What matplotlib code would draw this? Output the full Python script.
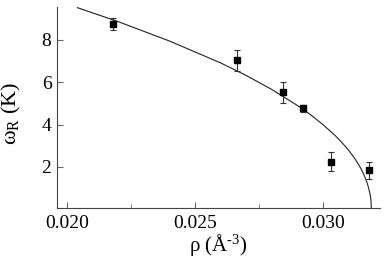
import matplotlib
matplotlib.use('Agg')
import matplotlib.pyplot as plt
from matplotlib.ticker import MultipleLocator

plt.rcParams['font.family'] = ['Liberation Serif', 'DejaVu Serif']
plt.rcParams['mathtext.fontset'] = 'custom'
plt.rcParams['mathtext.rm'] = 'Liberation Serif'
plt.rcParams['mathtext.it'] = 'Liberation Serif:italic'

# measured points
rho = [0.02179, 0.02663, 0.02843, 0.02921, 0.03031, 0.03181]
omega = [8.72, 7.02, 5.52, 4.76, 2.25, 1.84]
omega_err = [0.28, 0.50, 0.50, 0.18, 0.45, 0.40]

# fit curve
fit_rho = [0.0204, 0.0220, 0.0240, 0.0260, 0.0270, 0.0280, 0.0290, 0.0295,
           0.0300, 0.0305, 0.0307, 0.0309, 0.0310, 0.0311, 0.0312, 0.0313,
           0.0314, 0.0315, 0.0316, 0.0317, 0.03175, 0.0318, 0.03185,
           0.03188, 0.0319]
fit_omega = [9.50, 8.84, 7.93, 6.90, 6.31, 5.65, 4.90, 4.48,
             4.00, 3.46, 3.21, 2.94, 2.80, 2.64, 2.48, 2.30,
             2.11, 1.90, 1.65, 1.36, 1.18, 0.97, 0.70,
             0.45, 0.0]

fig = plt.figure(figsize=(3.9, 2.6), dpi=100)
ax = fig.add_axes([0.146, 0.2, 0.828, 0.773])

ax.plot(fit_rho, fit_omega, color='#222222', lw=0.8)
ax.errorbar(rho, omega, yerr=omega_err, fmt='s', color='black', ms=5,
            ecolor='#333333', elinewidth=0.8, capsize=2.5, capthick=0.8)

ax.set_xlim(0.0196, 0.03223)
ax.set_ylim(0.07, 9.53)
ax.xaxis.set_minor_locator(MultipleLocator(0.0025))
ax.set_xticks([0.020, 0.025, 0.030])
ax.set_xticklabels(['0.020', '0.025', '0.030'])
ax.set_yticks([2, 4, 6, 8])

for side in ['top', 'right']:
    ax.spines[side].set_visible(False)
for side in ['left', 'bottom']:
    ax.spines[side].set_color('#444444')
    ax.spines[side].set_linewidth(0.8)

ax.tick_params(which='both', direction='in', colors='#666666', labelcolor='black',
               labelsize=14)
ax.tick_params(axis='x', which='major', length=4, pad=5)
ax.tick_params(axis='y', which='major', length=4, pad=4)
ax.tick_params(which='minor', length=3)

ax.set_xlabel(r'ρ (Å$^{\text{-3}}$)', fontsize=15, labelpad=0)
ax.set_ylabel(r'ω$_{\mathrm{R}}$ (K)', fontsize=16, labelpad=6)
ax.yaxis.set_label_coords(-0.105, 0.47)

fig.savefig('out.png', dpi=100)
